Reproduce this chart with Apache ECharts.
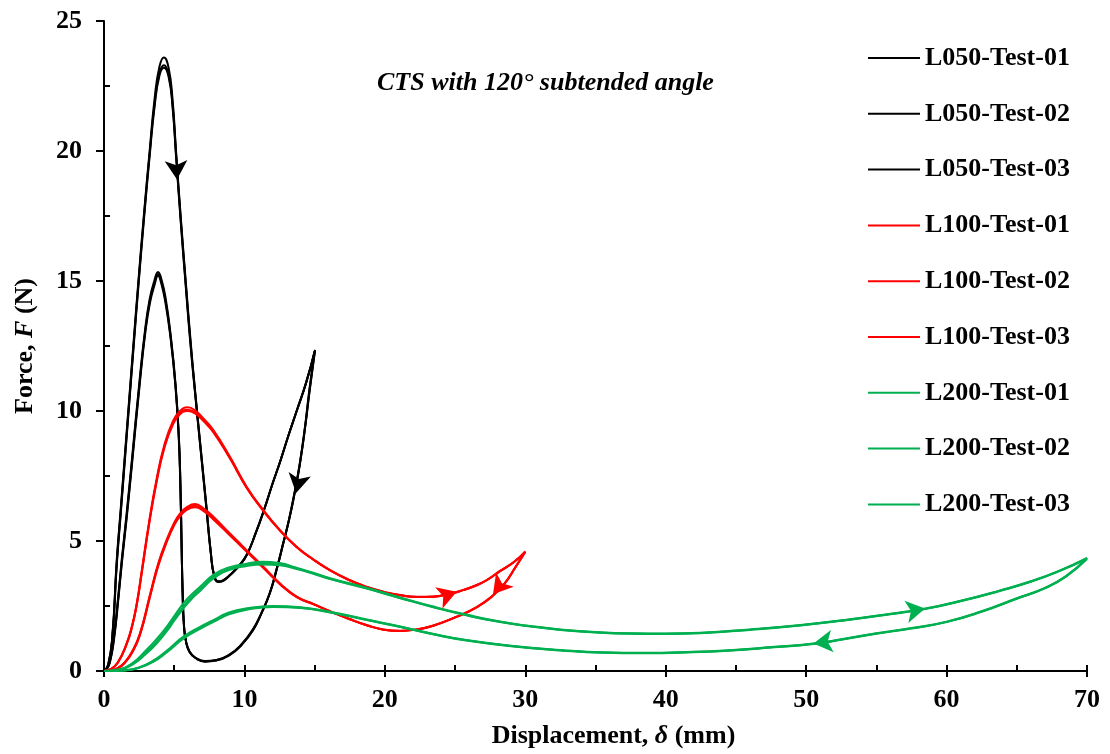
<!DOCTYPE html>
<html>
<head>
<meta charset="utf-8">
<title>CTS force - displacement</title>
<script src="https://cdn.jsdelivr.net/npm/echarts@6/dist/echarts.min.js"></script>
<style>
  html, body { margin: 0; padding: 0; background: #ffffff; }
  #main { width: 1110px; height: 754px; }
</style>
</head>
<body>
<div id="main"></div>
<script>
  // 轴刻度
  const xTicks = [0, 10, 20, 30, 40, 50, 60, 70]
  const yTicks = [0, 5, 10, 15, 20, 25]

  // L050 (加载 + 卸载 回路), [displacement mm, force N]
  const L050_T01 = [
    [0, 0], [0.3, 0.25], [0.6, 1.4], [0.9, 4.2], [1.2, 6.3], [1.5, 8.4], [1.8, 10.5], [2.1, 12.6], [2.45, 15.0], [2.85, 17.6],
    [3.25, 20.0], [3.6, 22.0], [3.95, 23.25], [4.27, 23.6], [4.6, 23.2], [4.88, 22.0], [5.13, 20.0], [5.46, 17.5], [5.82, 15.0], [6.15, 12.8],
    [6.5, 10.7], [6.9, 8.5], [7.3, 6.3], [7.6, 4.6], [7.85, 3.65], [8.14, 3.42], [8.5, 3.47], [8.97, 3.68], [9.6, 4.02], [10.16, 4.45],
    [10.8, 5.3], [11.4, 6.2], [12.0, 7.2], [12.54, 8.05], [13.1, 9.0], [13.72, 10.0], [14.4, 11.1], [15.03, 12.35],
    [14.65, 10.8], [14.3, 9.27], [13.95, 7.95], [13.6, 6.9], [13.2, 5.85], [12.77, 4.91], [12.3, 3.9], [11.82, 3.0], [11.2, 2.2], [10.63, 1.58],
    [9.8, 1.0], [8.97, 0.62], [8.0, 0.4], [7.19, 0.36], [6.5, 0.5], [6.1, 0.72], [5.85, 1.1], [5.7, 1.7], [5.6, 3.0], [5.52, 5.0],
    [5.45, 7.0], [5.33, 9.0], [5.1, 11.0], [4.75, 12.9], [4.4, 14.3], [4.1, 15.05], [3.85, 15.35], [3.58, 15.0], [3.25, 14.3], [2.92, 13.1],
    [2.5, 11.0], [2.0, 8.2], [1.6, 6.0], [1.26, 4.27], [1.0, 2.8], [0.7, 1.3], [0.4, 0.35], [0.15, 0.04], [0, 0]
  ]
  const L050_T02 = [
    [0, 0], [0.3, 0.22], [0.6, 1.3], [0.9, 4.0], [1.2, 6.1], [1.5, 8.2], [1.8, 10.3], [2.1, 12.4], [2.45, 14.8], [2.85, 17.4],
    [3.25, 19.8], [3.6, 21.7], [3.95, 22.9], [4.27, 23.2], [4.6, 22.85], [4.88, 21.7], [5.13, 19.8], [5.46, 17.3], [5.82, 14.8], [6.15, 12.6],
    [6.5, 10.6], [6.9, 8.4], [7.3, 6.2], [7.6, 4.55], [7.85, 3.65], [8.14, 3.45], [8.5, 3.5], [8.97, 3.7], [9.6, 4.05], [10.16, 4.47],
    [10.8, 5.3], [11.4, 6.2], [12.0, 7.2], [12.54, 8.05], [13.1, 9.0], [13.72, 10.0], [14.4, 11.1], [15.0, 12.3],
    [14.62, 10.8], [14.28, 9.25], [13.93, 7.95], [13.58, 6.9], [13.18, 5.85], [12.75, 4.9], [12.28, 3.9], [11.8, 3.0], [11.18, 2.2], [10.6, 1.6],
    [9.78, 1.02], [8.95, 0.64], [8.0, 0.42], [7.19, 0.38], [6.5, 0.52], [6.1, 0.74], [5.85, 1.12], [5.7, 1.72], [5.6, 3.0], [5.52, 5.0],
    [5.44, 7.0], [5.32, 9.0], [5.08, 11.0], [4.73, 12.85], [4.38, 14.15], [4.08, 14.9], [3.85, 15.2], [3.6, 14.85], [3.27, 14.15], [2.94, 13.0],
    [2.52, 10.9], [2.02, 8.1], [1.62, 5.9], [1.28, 4.2], [1.02, 2.75], [0.72, 1.25], [0.42, 0.33], [0.16, 0.04], [0, 0]
  ]
  const L050_T03 = [
    [0, 0], [0.3, 0.24], [0.6, 1.35], [0.9, 4.1], [1.2, 6.2], [1.5, 8.3], [1.8, 10.4], [2.1, 12.5], [2.45, 14.9], [2.85, 17.5],
    [3.25, 19.9], [3.6, 21.8], [3.95, 23.0], [4.27, 23.3], [4.6, 22.95], [4.88, 21.8], [5.13, 19.9], [5.46, 17.4], [5.82, 14.9], [6.15, 12.7],
    [6.5, 10.65], [6.9, 8.45], [7.3, 6.25], [7.6, 4.58], [7.85, 3.66], [8.14, 3.44], [8.5, 3.49], [8.97, 3.69], [9.6, 4.04], [10.16, 4.46],
    [10.8, 5.3], [11.4, 6.2], [12.0, 7.2], [12.54, 8.05], [13.1, 9.0], [13.72, 10.0], [14.4, 11.1], [15.02, 12.32],
    [14.64, 10.8], [14.29, 9.26], [13.94, 7.95], [13.59, 6.9], [13.19, 5.85], [12.76, 4.9], [12.29, 3.9], [11.81, 3.0], [11.19, 2.2], [10.62, 1.59],
    [9.79, 1.01], [8.96, 0.63], [8.0, 0.41], [7.19, 0.37], [6.5, 0.51], [6.1, 0.73], [5.85, 1.11], [5.7, 1.71], [5.6, 3.0], [5.52, 5.0],
    [5.45, 7.0], [5.33, 9.0], [5.09, 11.0], [4.74, 12.88], [4.39, 14.22], [4.09, 14.97], [3.85, 15.27], [3.59, 14.92], [3.26, 14.22], [2.93, 13.05],
    [2.51, 10.95], [2.01, 8.15], [1.61, 5.95], [1.27, 4.23], [1.01, 2.77], [0.71, 1.27], [0.41, 0.34], [0.15, 0.04], [0, 0]
  ]

  // L100
  const L100_T01 = [
    [0, 0], [0.5, 0.08], [1.0, 0.35], [1.61, 1.06], [2.0, 1.75], [2.33, 2.6], [2.7, 3.9], [3.2, 5.7], [3.75, 7.4], [4.3, 8.7],
    [4.9, 9.6], [5.41, 10.0], [5.95, 10.14], [6.5, 10.02], [7.1, 9.7], [7.79, 9.27], [8.97, 8.24], [10.16, 7.09], [11.35, 6.19], [12.54, 5.42],
    [13.72, 4.78], [14.9, 4.3], [16.1, 3.88], [17.4, 3.52], [18.7, 3.24], [19.9, 3.05], [21.1, 2.92], [22.3, 2.86], [23.45, 2.87], [24.5, 2.96],
    [25.57, 3.12], [26.5, 3.3], [27.25, 3.5], [28.2, 3.85], [29.2, 4.2], [30.0, 4.6],
    [29.3, 4.0], [28.5, 3.35], [27.6, 2.86], [26.5, 2.45], [25.1, 2.09], [23.45, 1.75], [22.2, 1.6], [21.1, 1.55], [19.9, 1.6], [18.7, 1.77],
    [17.5, 2.0], [16.1, 2.3], [14.9, 2.58], [13.72, 2.86], [12.54, 3.37], [11.35, 4.01], [10.16, 4.65], [8.97, 5.29], [7.79, 5.93], [7.1, 6.25],
    [6.48, 6.42], [5.9, 6.3], [5.41, 6.05], [5.0, 5.7], [4.5, 5.1], [3.87, 4.15], [3.28, 2.95], [2.56, 1.45], [2.0, 0.75], [1.5, 0.35],
    [1.0, 0.12], [0.5, 0.02], [0, 0]
  ]
  const L100_T02 = [
    [0, 0], [0.5, 0.07], [1.0, 0.33], [1.61, 1.02], [2.0, 1.7], [2.33, 2.53], [2.7, 3.8], [3.2, 5.6], [3.75, 7.28], [4.3, 8.58],
    [4.9, 9.47], [5.41, 9.87], [5.95, 10.0], [6.5, 9.9], [7.1, 9.6], [7.79, 9.18], [8.97, 8.17], [10.16, 7.04], [11.35, 6.15], [12.54, 5.39],
    [13.72, 4.76], [14.9, 4.28], [16.1, 3.87], [17.4, 3.51], [18.7, 3.23], [19.9, 3.04], [21.1, 2.91], [22.3, 2.85], [23.45, 2.86], [24.5, 2.95],
    [25.57, 3.11], [26.5, 3.29], [27.25, 3.49], [28.2, 3.84], [29.2, 4.19], [30.0, 4.58],
    [29.3, 3.99], [28.5, 3.34], [27.6, 2.85], [26.5, 2.44], [25.1, 2.08], [23.45, 1.74], [22.2, 1.59], [21.1, 1.54], [19.9, 1.59], [18.7, 1.76],
    [17.5, 1.99], [16.1, 2.29], [14.9, 2.57], [13.72, 2.85], [12.54, 3.35], [11.35, 3.99], [10.16, 4.62], [8.97, 5.25], [7.79, 5.88], [7.1, 6.2],
    [6.48, 6.36], [5.9, 6.25], [5.41, 6.0], [5.0, 5.65], [4.5, 5.05], [3.87, 4.1], [3.28, 2.9], [2.56, 1.41], [2.0, 0.72], [1.5, 0.33],
    [1.0, 0.11], [0.5, 0.02], [0, 0]
  ]
  const L100_T03 = [
    [0, 0], [0.5, 0.07], [1.0, 0.34], [1.61, 1.04], [2.0, 1.72], [2.33, 2.56], [2.7, 3.85], [3.2, 5.64], [3.75, 7.33], [4.3, 8.63],
    [4.9, 9.52], [5.41, 9.92], [5.95, 10.05], [6.5, 9.95], [7.1, 9.64], [7.79, 9.22], [8.97, 8.2], [10.16, 7.06], [11.35, 6.17], [12.54, 5.4],
    [13.72, 4.77], [14.9, 4.29], [16.1, 3.87], [17.4, 3.51], [18.7, 3.23], [19.9, 3.04], [21.1, 2.91], [22.3, 2.85], [23.45, 2.86], [24.5, 2.95],
    [25.57, 3.11], [26.5, 3.29], [27.25, 3.49], [28.2, 3.84], [29.2, 4.19], [30.0, 4.59],
    [29.3, 3.99], [28.5, 3.34], [27.6, 2.85], [26.5, 2.44], [25.1, 2.08], [23.45, 1.74], [22.2, 1.59], [21.1, 1.54], [19.9, 1.59], [18.7, 1.76],
    [17.5, 1.99], [16.1, 2.29], [14.9, 2.57], [13.72, 2.84], [12.54, 3.33], [11.35, 3.96], [10.16, 4.59], [8.97, 5.21], [7.79, 5.83], [7.1, 6.15],
    [6.48, 6.3], [5.9, 6.2], [5.41, 5.95], [5.0, 5.6], [4.5, 5.0], [3.87, 4.05], [3.28, 2.86], [2.56, 1.38], [2.0, 0.7], [1.5, 0.32],
    [1.0, 0.1], [0.5, 0.02], [0, 0]
  ]

  // L200
  const L200_T01 = [
    [0, 0], [1, 0.06], [2, 0.3], [3, 0.8], [3.7, 1.2], [4.46, 1.7], [5.05, 2.15], [5.65, 2.6], [6.25, 2.95], [6.84, 3.24],
    [7.79, 3.7], [8.9, 3.98], [10.16, 4.13], [11.3, 4.2], [12.5, 4.15], [13.72, 3.97], [14.9, 3.78], [16.1, 3.57], [18.7, 3.2], [21.1, 2.83],
    [23.45, 2.48], [25.8, 2.17], [28.2, 1.9], [30.5, 1.72], [32.5, 1.6], [35, 1.5], [37.5, 1.45], [40, 1.44], [42.45, 1.47], [46, 1.6],
    [49.6, 1.77], [53, 1.98], [56, 2.2], [58.47, 2.4], [61, 2.7], [63.8, 3.1], [66, 3.45], [68, 3.85], [70, 4.35],
    [68.5, 3.65], [67, 3.2], [65, 2.8], [62.5, 2.3], [60, 1.9], [57.5, 1.65], [55, 1.45], [52.5, 1.22], [50.52, 1.06], [47.5, 0.92],
    [44.5, 0.8], [41.5, 0.73], [38.5, 0.7], [35.5, 0.72], [32.5, 0.81], [29, 0.97], [25.8, 1.19], [23.5, 1.42], [21.1, 1.71], [18.7, 1.98],
    [16.1, 2.28], [14, 2.45], [12.05, 2.5], [10.16, 2.41], [8.9, 2.25], [7.79, 1.96], [6.84, 1.7], [5.65, 1.32], [4.46, 0.78], [3.5, 0.4],
    [2.5, 0.14], [1.5, 0.03], [0, 0]
  ]
  const L200_T02 = [
    [0, 0], [1, 0.05], [2, 0.27], [3, 0.72], [3.7, 1.1], [4.46, 1.6], [5.05, 2.05], [5.65, 2.48], [6.25, 2.85], [6.84, 3.15],
    [7.79, 3.62], [8.9, 3.92], [10.16, 4.08], [11.3, 4.15], [12.5, 4.11], [13.72, 3.95], [14.9, 3.76], [16.1, 3.55], [18.7, 3.18], [21.1, 2.81],
    [23.45, 2.46], [25.8, 2.15], [28.2, 1.89], [30.5, 1.71], [32.5, 1.59], [35, 1.49], [37.5, 1.44], [40, 1.43], [42.45, 1.46], [46, 1.59],
    [49.6, 1.76], [53, 1.97], [56, 2.19], [58.47, 2.39], [61, 2.69], [63.8, 3.09], [66, 3.44], [68, 3.84], [70, 4.33],
    [68.5, 3.64], [67, 3.19], [65, 2.79], [62.5, 2.29], [60, 1.89], [57.5, 1.64], [55, 1.44], [52.5, 1.21], [50.52, 1.05], [47.5, 0.91],
    [44.5, 0.79], [41.5, 0.72], [38.5, 0.69], [35.5, 0.71], [32.5, 0.8], [29, 0.96], [25.8, 1.18], [23.5, 1.41], [21.1, 1.7], [18.7, 1.97],
    [16.1, 2.26], [14, 2.43], [12.05, 2.48], [10.16, 2.38], [8.9, 2.21], [7.79, 1.92], [6.84, 1.65], [5.65, 1.27], [4.46, 0.74], [3.5, 0.37],
    [2.5, 0.13], [1.5, 0.03], [0, 0]
  ]
  const L200_T03 = [
    [0, 0], [1, 0.04], [2, 0.24], [3, 0.66], [3.7, 1.03], [4.46, 1.52], [5.05, 1.97], [5.65, 2.4], [6.25, 2.78], [6.84, 3.08],
    [7.79, 3.56], [8.9, 3.88], [10.16, 4.04], [11.3, 4.1], [12.5, 4.07], [13.72, 3.92], [14.9, 3.74], [16.1, 3.54], [18.7, 3.17], [21.1, 2.8],
    [23.45, 2.45], [25.8, 2.14], [28.2, 1.88], [30.5, 1.7], [32.5, 1.58], [35, 1.48], [37.5, 1.43], [40, 1.42], [42.45, 1.45], [46, 1.58],
    [49.6, 1.75], [53, 1.96], [56, 2.18], [58.47, 2.38], [61, 2.68], [63.8, 3.08], [66, 3.43], [68, 3.83], [70, 4.31],
    [68.5, 3.63], [67, 3.18], [65, 2.78], [62.5, 2.28], [60, 1.88], [57.5, 1.63], [55, 1.43], [52.5, 1.2], [50.52, 1.04], [47.5, 0.9],
    [44.5, 0.78], [41.5, 0.71], [38.5, 0.68], [35.5, 0.7], [32.5, 0.79], [29, 0.95], [25.8, 1.17], [23.5, 1.4], [21.1, 1.69], [18.7, 1.96],
    [16.1, 2.25], [14, 2.42], [12.05, 2.46], [10.16, 2.36], [8.9, 2.18], [7.79, 1.89], [6.84, 1.62], [5.65, 1.24], [4.46, 0.71], [3.5, 0.35],
    [2.5, 0.12], [1.5, 0.02], [0, 0]
  ]

  // 方向箭头 (在曲线上的位置) 和 朝向角度
  const blackArrows = [[5.2, 18.9], [13.68, 6.85]]
  const blackArrowAngles = [183, 169]
  const redArrows = [[25.12, 3.05], [27.7, 2.95]]
  const redArrowAngles = [-71, 141]
  const greenArrows = [[58.47, 2.4], [50.52, 1.06]]
  const greenArrowAngles = [-80, 97]

  const testNames = ['L050-Test-01', 'L050-Test-02', 'L050-Test-03',
    'L100-Test-01', 'L100-Test-02', 'L100-Test-03',
    'L200-Test-01', 'L200-Test-02', 'L200-Test-03']
  const testData = [L050_T01, L050_T02, L050_T03, L100_T01, L100_T02, L100_T03, L200_T01, L200_T02, L200_T03]
  const testColors = ['#000000', '#000000', '#000000', '#ff0000', '#ff0000', '#ff0000', '#00b050', '#00b050', '#00b050']

  const FONT = 'Liberation Serif'

  const myChart = echarts.init(document.getElementById('main'), null, { renderer: 'canvas' })

  const lineSeries = testNames.map(function(name, i) {
    return {
      name: name,
      type: 'line',
      data: testData[i],
      symbol: 'none',
      smooth: 0.5,
      clip: false,
      lineStyle: { color: testColors[i], width: 2 },
      itemStyle: { color: testColors[i] },
      z: 2 + Math.floor(i / 3)
    }
  })

  function arrowSeries(pts, angles, color) {
    return {
      name: 'arrow-' + color,
      type: 'scatter',
      symbol: 'arrow',
      symbolSize: [17, 19],
      silent: true,
      z: 10,
      itemStyle: { color: color, opacity: 1 },
      data: pts.map(function(p, k) {
        return { value: p, symbolRotate: angles[k] }
      })
    }
  }

  myChart.setOption({
    animation: false,
    backgroundColor: '#ffffff',
    textStyle: { fontFamily: FONT },
    grid: { left: 104, right: 23, top: 21, bottom: 83, containLabel: false },
    legend: {
      data: testNames,
      orient: 'vertical',
      left: 868,
      top: 45,
      padding: 0,
      icon: 'rect',
      itemWidth: 52,
      itemHeight: 2,
      itemGap: 29.8,
      textStyle: { fontFamily: FONT, fontWeight: 'bold', fontSize: 26, color: '#000', lineHeight: 26 }
    },
    graphic: [{
      type: 'text',
      left: 377,
      top: 70,
      style: {
        text: 'CTS with 120° subtended angle',
        font: 'italic bold 26px "Liberation Serif"',
        fill: '#000'
      }
    }],
    xAxis: [{
      type: 'value',
      min: xTicks[0],
      max: xTicks[xTicks.length - 1],
      interval: 10,
      name: '{a|Displacement, }{i|δ}{a| (mm)}',
      nameLocation: 'middle',
      nameGap: 52,
      nameTextStyle: {
        padding: [0, 0, 0, 36],
        rich: {
          a: { fontFamily: FONT, fontWeight: 'bold', fontSize: 26, color: '#000' },
          i: { fontFamily: FONT, fontWeight: 'bold', fontStyle: 'italic', fontSize: 26, color: '#000' }
        }
      },
      axisLine: { lineStyle: { color: '#000', width: 2 } },
      axisTick: { show: true, inside: false, length: 6, lineStyle: { color: '#000', width: 2 } },
      axisLabel: { fontFamily: FONT, fontWeight: 'bold', fontSize: 26, color: '#000', margin: 16 },
      splitLine: { show: false }
    }, {
      // 内侧刻度 (每 5 mm)
      type: 'value',
      position: 'bottom',
      min: xTicks[0],
      max: xTicks[xTicks.length - 1],
      interval: 5,
      axisLine: { show: false },
      axisTick: { show: true, inside: true, length: 6, lineStyle: { color: '#000', width: 2 } },
      axisLabel: { show: false },
      splitLine: { show: false }
    }],
    yAxis: [{
      type: 'value',
      min: yTicks[0],
      max: yTicks[yTicks.length - 1],
      interval: 5,
      name: '{a|Force, }{i|F}{a| (N)}',
      nameLocation: 'middle',
      nameGap: 66,
      nameTextStyle: {
        rich: {
          a: { fontFamily: FONT, fontWeight: 'bold', fontSize: 26, color: '#000' },
          i: { fontFamily: FONT, fontWeight: 'bold', fontStyle: 'italic', fontSize: 26, color: '#000' }
        }
      },
      axisLine: { show: true, lineStyle: { color: '#000', width: 2 } },
      axisTick: { show: true, inside: false, length: 8, lineStyle: { color: '#000', width: 2 } },
      axisLabel: { fontFamily: FONT, fontWeight: 'bold', fontSize: 26, color: '#000', margin: 22 },
      splitLine: { show: false }
    }, {
      // 内侧次刻度 (2.5 N)
      type: 'value',
      position: 'left',
      min: yTicks[0],
      max: yTicks[yTicks.length - 1],
      interval: 5,
      axisLine: { show: false },
      axisTick: { show: false, inside: true },
      minorTick: { show: true, splitNumber: 2, length: 6, lineStyle: { color: '#000', width: 2 } },
      axisLabel: { show: false },
      splitLine: { show: false }
    }],
    series: lineSeries.concat([
      arrowSeries(blackArrows, blackArrowAngles, '#000000'),
      arrowSeries(redArrows, redArrowAngles, '#ff0000'),
      arrowSeries(greenArrows, greenArrowAngles, '#00b050')
    ])
  })
</script>
</body>
</html>
